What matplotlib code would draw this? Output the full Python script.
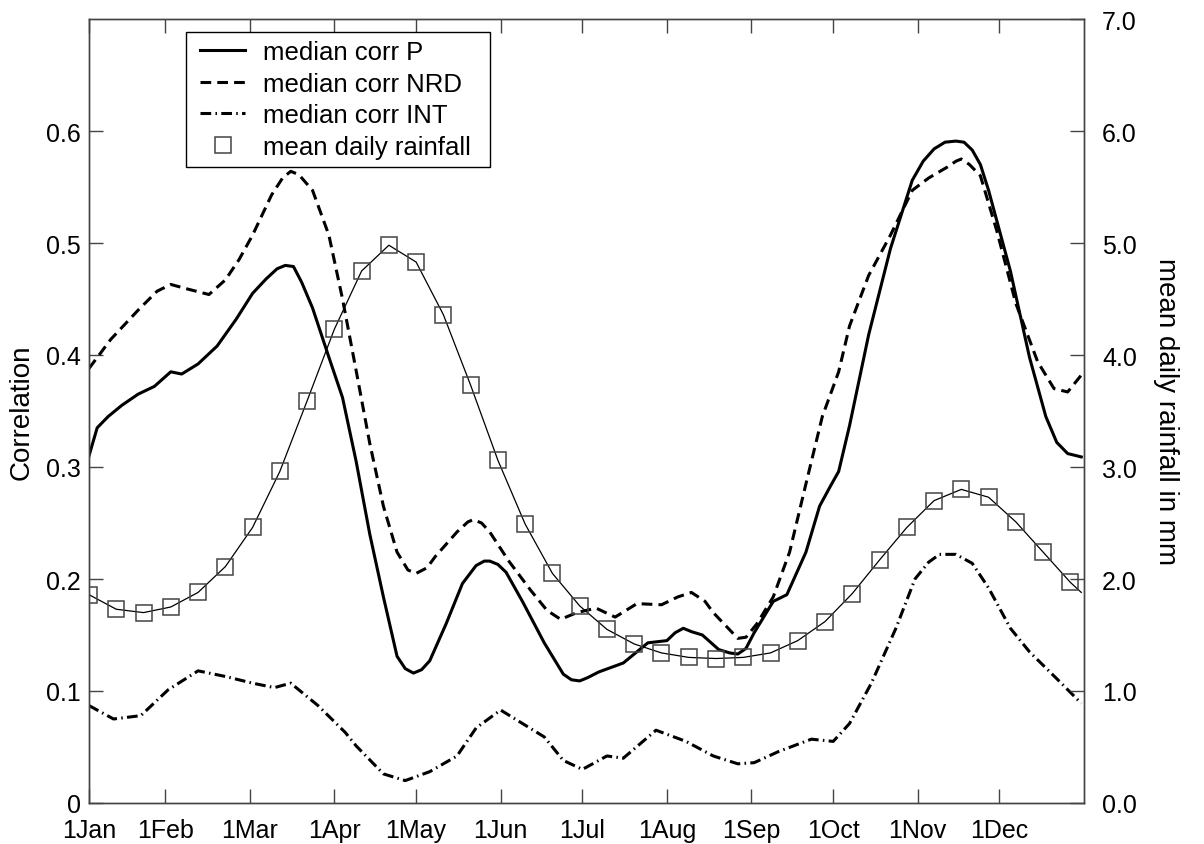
import matplotlib
matplotlib.use("Agg")
import matplotlib.pyplot as plt
from matplotlib.lines import Line2D
from matplotlib.patches import Rectangle

plt.rcParams['font.family'] = ['Liberation Sans', 'DejaVu Sans']

# ---- data (day of year) ----
month_labels = ['1Jan', '1Feb', '1Mar', '1Apr', '1May', '1Jun',
                '1Jul', '1Aug', '1Sep', '1Oct', '1Nov', '1Dec']
month_days = [0, 28, 59, 90, 120, 151, 181, 212, 243, 273, 304, 334]

p_days = [0, 3, 7, 12, 18, 24, 30, 34, 40, 47, 54, 60, 65, 69, 72, 75, 78, 82, 88,
          93, 98, 103, 108, 113, 116, 119, 122, 125, 131, 137, 142, 145, 147,
          150, 153, 159, 167, 174, 177, 180, 183, 187, 196, 205, 212, 215, 218,
          221, 225, 231, 235, 238, 241, 244, 251, 256, 263, 268, 272, 275, 279,
          286, 294, 302, 306, 310, 314, 318, 321, 324, 327, 330, 338, 345, 351,
          355, 359, 364]
p_vals = [0.310, 0.335, 0.345, 0.355, 0.365, 0.372, 0.385, 0.383, 0.392, 0.408,
          0.432, 0.455, 0.468, 0.477, 0.480, 0.479, 0.465, 0.442, 0.398, 0.362,
          0.305, 0.240, 0.184, 0.131, 0.120, 0.116, 0.119, 0.127, 0.160, 0.196,
          0.212, 0.216, 0.216, 0.213, 0.206, 0.180, 0.143, 0.115, 0.110, 0.109,
          0.112, 0.117, 0.125, 0.143, 0.145, 0.152, 0.156, 0.153, 0.150, 0.137,
          0.134, 0.133, 0.138, 0.152, 0.180, 0.186, 0.224, 0.265, 0.283, 0.296,
          0.337, 0.418, 0.495, 0.556, 0.573, 0.584, 0.590, 0.591, 0.590, 0.583,
          0.570, 0.547, 0.475, 0.398, 0.345, 0.322, 0.312, 0.309]

n_days = [0, 8, 18, 25, 30, 36, 44, 50, 55, 60, 67, 71, 74, 77, 82, 88, 93, 98,
          103, 108, 113, 117, 120, 124, 127, 135, 139, 141, 144, 147, 154, 162,
          168, 173, 179, 186, 193, 201, 210, 216, 221, 226, 229, 238, 241, 245,
          251, 257, 263, 269, 275, 279, 286, 294, 302, 308, 315, 318, 320, 323,
          327, 333, 340, 348, 354, 359, 364]
n_vals = [0.388, 0.414, 0.440, 0.457, 0.463, 0.459, 0.454, 0.467, 0.485, 0.507,
          0.543, 0.558, 0.564, 0.561, 0.547, 0.507, 0.450, 0.386, 0.321, 0.265,
          0.224, 0.208, 0.205, 0.210, 0.220, 0.242, 0.251, 0.253, 0.250, 0.242,
          0.216, 0.190, 0.172, 0.164, 0.170, 0.174, 0.166, 0.178, 0.177, 0.184,
          0.188, 0.180, 0.170, 0.147, 0.148, 0.160, 0.184, 0.224, 0.285, 0.345,
          0.385, 0.426, 0.471, 0.507, 0.547, 0.558, 0.568, 0.573, 0.575, 0.570,
          0.560, 0.511, 0.446, 0.394, 0.370, 0.367, 0.382]

i_days = [0, 9, 19, 29, 40, 50, 60, 68, 74, 84, 94, 98, 108, 116, 125, 135, 142,
          151, 159, 167, 174, 181, 190, 196, 208, 219, 229, 238, 244, 253, 265,
          273, 279, 287, 296, 303, 308, 312, 318, 324, 330, 338, 345, 355, 364]
i_vals = [0.087, 0.075, 0.078, 0.101, 0.118, 0.113, 0.107, 0.103, 0.107, 0.087,
          0.063, 0.051, 0.026, 0.020, 0.028, 0.042, 0.067, 0.083, 0.071, 0.059,
          0.038, 0.030, 0.042, 0.040, 0.065, 0.055, 0.042, 0.035, 0.036, 0.046,
          0.057, 0.055, 0.071, 0.107, 0.156, 0.200, 0.215, 0.222, 0.222, 0.214,
          0.192, 0.156, 0.135, 0.111, 0.089]

rain_days = [0, 10, 20, 30, 40, 50, 60, 70, 80, 90, 100, 110, 120, 130, 140, 150,
             160, 170, 180, 190, 200, 210, 220, 230, 240, 250, 260, 270, 280, 290,
             300, 310, 320, 330, 340, 350, 360, 364]
rain_vals = [1.86, 1.73, 1.70, 1.75, 1.88, 2.11, 2.46, 2.96, 3.59, 4.23, 4.75,
             4.98, 4.83, 4.36, 3.73, 3.06, 2.49, 2.05, 1.76, 1.55, 1.42, 1.34,
             1.30, 1.29, 1.30, 1.34, 1.45, 1.62, 1.87, 2.17, 2.46, 2.70, 2.80,
             2.73, 2.51, 2.24, 1.97, 1.88]

left_ticks = [0, 0.1, 0.2, 0.3, 0.4, 0.5, 0.6]
left_labels = ['0', '0.1', '0.2', '0.3', '0.4', '0.5', '0.6']
right_ticks = [0, 1, 2, 3, 4, 5, 6, 7]
right_labels = ['0.0', '1.0', '2.0', '3.0', '4.0', '5.0', '6.0', '7.0']

# ---- figure ----
fig = plt.figure(figsize=(12.04, 8.45), dpi=100)
ax = fig.add_axes([89 / 1204, 41 / 845, 995 / 1204, 784 / 845])
ax2 = ax.twinx()

FS = 18
LFS = 18.5
lw = 2.2
dash = (0, (3.5, 2.0))
dashdot = (0, (3.5, 1.4, 0.5, 1.4))
ax.plot(p_days, p_vals, color='black', lw=lw, solid_joinstyle='round')
ax.plot(n_days, n_vals, color='black', lw=lw, linestyle=dash)
ax.plot(i_days, i_vals, color='black', lw=lw, linestyle=dashdot)

ax2.plot(rain_days, rain_vals, color='black', lw=0.9)
ax2.plot(rain_days[:-1], rain_vals[:-1], linestyle='none', marker='s',
         markersize=11, markerfacecolor='none', markeredgecolor='#444444',
         markeredgewidth=1.1)

ax.set_xlim(0, 365)
ax.set_ylim(0, 0.7)
ax2.set_ylim(0, 7)

ax.set_xticks(month_days)
ax.set_xticklabels(month_labels, fontsize=FS)
ax.set_yticks(left_ticks)
ax.set_yticklabels(left_labels, fontsize=FS)
ax2.set_yticks(right_ticks)
ax2.set_yticklabels(right_labels, fontsize=FS)

ax.tick_params(axis='x', direction='in', length=10, width=1, top=True,
               pad=11, color='#444444')
ax.tick_params(axis='y', direction='in', length=10, width=1, pad=6,
               color='#444444')
ax2.tick_params(axis='y', direction='in', length=10, width=1, pad=13,
                color='#444444')

for a in (ax, ax2):
    for s in a.spines.values():
        s.set_color('#444444')
        s.set_linewidth(1.0)

ax.set_ylabel('Correlation', fontsize=20, labelpad=8)
ax2.set_ylabel('mean daily rainfall in mm', fontsize=20, rotation=270,
               labelpad=30)

# legend frame drawn as its own box
frame = Rectangle((0.0975, 0.811), 0.3055, 0.1725, transform=ax2.transAxes,
                  facecolor='white', edgecolor='black', linewidth=1.0,
                  zorder=5)
ax2.add_patch(frame)

handles = [
    Line2D([], [], color='black', lw=lw),
    Line2D([], [], color='black', lw=lw, linestyle=dash),
    Line2D([], [], color='black', lw=lw, linestyle=dashdot),
    Line2D([], [], linestyle='none', marker='s', markersize=11,
           markerfacecolor='none', markeredgecolor='#444444',
           markeredgewidth=1.1),
]
labels = ['median corr P', 'median corr NRD', 'median corr INT',
          'mean daily rainfall']
leg = ax2.legend(handles, labels, loc='upper left',
                 bbox_to_anchor=(0.0975, 0.9915), fontsize=LFS, frameon=False,
                 handlelength=1.75, labelspacing=0.30, borderpad=0.55,
                 handletextpad=0.7, borderaxespad=0)
leg.set_zorder(6)

fig.savefig('out.png', dpi=100)
